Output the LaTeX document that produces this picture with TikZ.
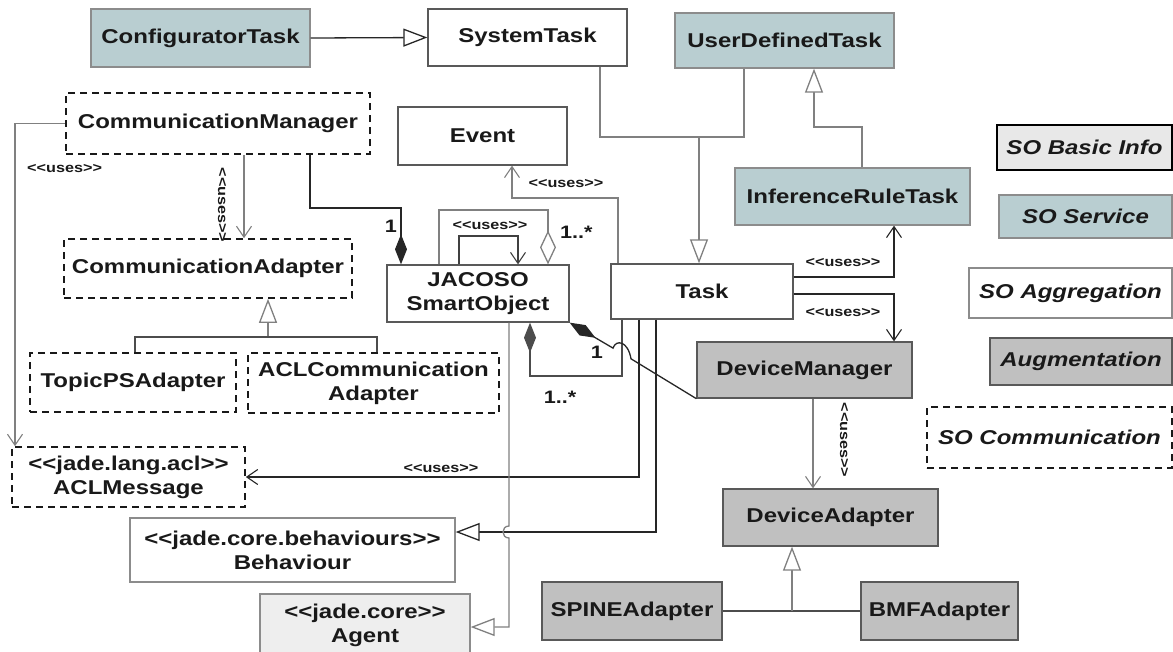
\documentclass[tikz,border=0pt]{standalone}
\usepackage{fontspec}
\setmainfont{Liberation Sans}[FakeStretch=1.2]
\usetikzlibrary{arrows.meta,calc}
\definecolor{svcc}{RGB}{185,206,209}
\definecolor{augc}{RGB}{192,192,192}
\definecolor{agentc}{RGB}{238,238,238}
\definecolor{basicc}{RGB}{232,232,232}
\newcommand\lgu{<\kern0pt<}
\newcommand\rgu{>\kern0pt>}
\newcommand\uses{\lgu uses\rgu}
\begin{document}
\begin{tikzpicture}[x=1pt,y=-1pt,
 wh/.style 2 args={minimum width=#1pt, minimum height=#2pt},
 box/.style={draw=black!65, line width=1.3pt, inner sep=0pt, align=center, text=black!90, font=\bfseries\fontsize{20}{24}\selectfont},
 lbox/.style={box, draw=black!45},
 dbox/.style={box, draw=black!90, line width=1.6pt, dash pattern=on 7pt off 5pt},
 svc/.style={lbox, fill=svcc},
 aug/.style={box, fill=augc},
 lg/.style={font=\bfseries\itshape\fontsize{20}{24}\selectfont},
 lbl/.style={font=\bfseries\fontsize{13.5}{15}\selectfont, text=black!90, inner sep=0pt},
 mult/.style={font=\bfseries\fontsize{18}{20}\selectfont, text=black!90, inner sep=0pt},
 conn/.style={line width=1.3pt, draw=black!85},
 gconn/.style={line width=1.3pt, draw=black!50},
 gen/.style={-{Triangle[open, length=24pt, width=18pt, fill=white]}},
 dep/.style={-{Straight Barb[length=11pt, width=15pt, line width=1.1pt]}},
 comp/.style={-{Diamond[length=30pt, width=12pt]}},
 compstart/.style={{Diamond[length=30pt, width=12pt]}-},
 agg/.style={-{Diamond[open, length=34pt, width=16pt, fill=white]}}
]
\useasboundingbox (0,0) rectangle (1173,651);
% nodes
\node[svc, wh={219}{58}] (CT) at (200.5,38) {ConfiguratorTask};
\node[box, wh={199}{57}] (ST) at (527.5,37.5) {SystemTask};
\node[svc, wh={219}{55}] (UDT) at (784.5,40.5) {UserDefinedTask};
\node[box, wh={169}{58}] (EV) at (482.5,136) {Event};
\node[dbox, wh={304}{61}] (CM) at (218,123.5) {CommunicationManager};
\node[svc, wh={235}{57}] (IRT) at (852.5,196.5) {InferenceRuleTask};
\node[box, draw=black, line width=2pt, fill=basicc, lg, wh={175}{45}] (LB) at (1084.5,147.5) {SO Basic Info};
\node[svc, lg, wh={173}{43}] (LS) at (1085.5,216.5) {SO Service};
\node[lbox, lg, wh={203}{50}] (LA) at (1070.5,293) {SO Aggregation};
\node[aug, lg, wh={182}{47}] (LU) at (1081,361.5) {Augmentation};
\node[dbox, lg, wh={245}{61}] (LC) at (1049.5,437.5) {SO Communication};
\node[box, wh={182}{55}] (TK) at (702,291.5) {Task};
\node[box, wh={182}{57}] (JS) at (478,293.5) {JACOSO\\SmartObject};
\node[dbox, wh={288}{59}] (CA) at (208,268.5) {CommunicationAdapter};
\node[dbox, wh={206}{59}] (TP) at (133,382.5) {TopicPSAdapter};
\node[dbox, wh={251}{60}] (AC) at (373.5,383) {ACLCommunication\\Adapter};
\node[aug, wh={215}{56}] (DM) at (804.5,370) {DeviceManager};
\node[dbox, wh={233}{60}] (AM) at (128.5,477) {\lgu jade.lang.acl\rgu\\ACLMessage};
\node[aug, wh={215}{57}] (DA) at (830.5,517.5) {DeviceAdapter};
\node[lbox, wh={325}{64}] (BH) at (292.5,550) {\lgu jade.core.behaviours\rgu\\Behaviour};
\node[lbox, fill=agentc, wh={210}{62}] (AG) at (365,625) {\lgu jade.core\rgu\\Agent};
\node[aug, wh={180}{58}] (SP) at (632,611) {SPINEAdapter};
\node[aug, wh={157}{58}] (BM) at (939.5,611) {BMFAdapter};
% connectors
\draw[conn, gen] (CT.east) -- (ST.west);
\coordinate (j1) at (699,137);
\draw[gconn] (600,0 |- ST.south) -- (600,137) -- (j1);
\draw[gconn] (744,0 |- UDT.south) -- (744,137) -- (j1);
\draw[gconn, gen] (j1) -- (699,0 |- TK.north);
\draw[gconn, gen] (862,0 |- IRT.north) -- (862,127) -- (814,127) -- (814,0 |- UDT.south);
\draw[gconn, dep] (CM.west) -- (15,0 |- CM.west) -- (15,0 |- AM.north);
\node[lbl, anchor=west] (u1) at (27,169) {\uses};
\draw[gconn, dep] (244,0 |- CM.south) -- (244,0 |- CA.north);
\node[lbl, rotate=-90] (u2) at (222,205) {\uses};
\draw[conn, comp] (310,0 |- CM.south) -- (310,208) -- (401,208) -- (401,0 |- JS.north);
\node[mult] (m1) at (391,226) {1};
\draw[gconn, agg] (439,0 |- JS.north) -- (439,210) -- (548,210) -- (548,0 |- JS.north);
\node[mult, anchor=west] (m2) at (560,232) {1..*};
\draw[conn, draw=black!75, dep] (459,0 |- JS.north) -- (459,236) -- (518,236) -- (518,0 |- JS.north);
\node[lbl] (u3) at (490,226) {\uses};
\draw[gconn, dep] (618,0 |- TK.north) -- (618,198) -- (512,198) -- (512,0 |- EV.south);
\node[lbl] (u4) at (566,184) {\uses};
\draw[conn, draw=black!70, comp] (622,0 |- TK.south) -- (622,376) -- (530,376) -- (530,0 |- JS.south);
\node[mult] (m3) at (560,397) {1..*};
\draw[conn, dep] (639,0 |- TK.south) -- (639,0 |- AM.east) -- (AM.east);
\node[lbl] (u5) at (441,469) {\uses};
\draw[conn, gen] (656,0 |- TK.south) -- (656,532) -- (BH.east |- 0,532);
\draw[gconn, gen] (509,0 |- JS.south) -- (509,526) .. controls (501,526) and (501,538) .. (509,538) -- (509,627) -- (AG.east |- 0,627);
\draw[conn, compstart] (JS.south east) -- (613,348.1) .. controls (616,339) and (628,341) .. (631,358.8) -- (DM.south west);
\node[mult] (m4) at (597,352) {1};
\draw[conn, dep] (TK.east |- 0,277) -- (894,277) -- (894,0 |- IRT.south);
\node[lbl] (u6) at (843,263) {\uses};
\draw[conn, dep] (TK.east |- 0,294) -- (894,294) -- (894,0 |- DM.north);
\node[lbl] (u7) at (843,313) {\uses};
\draw[gconn, dep] (813,0 |- DM.south) -- (813,0 |- DA.north);
\node[lbl, rotate=-90] (u8) at (844,440) {\uses};
\coordinate (sj) at (792,0 |- SP.east);
\draw[conn, draw=black!70] (SP.east) -- (BM.west);
\draw[gconn, gen] (sj) -- (792,0 |- DA.south);
\coordinate (cj) at (268,337);
\draw[gconn, gen] (cj) -- (268,0 |- CA.south);
\draw[conn, draw=black!70] (135,0 |- TP.north) -- (135,337) -- (377,337) -- (377,0 |- AC.north);
\end{tikzpicture}
\end{document}
